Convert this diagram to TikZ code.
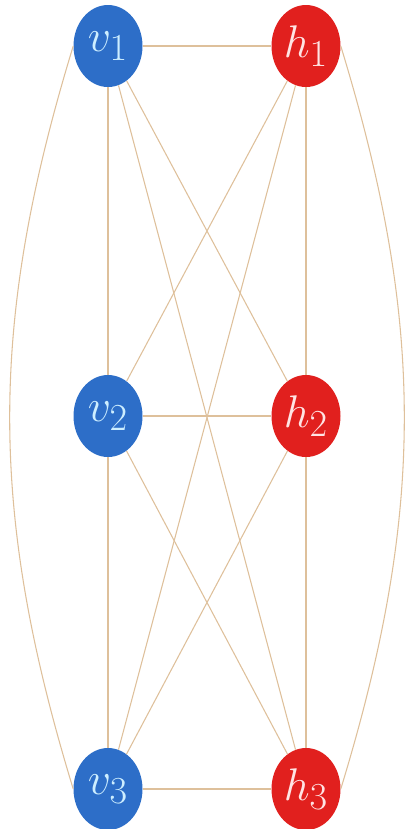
\documentclass[tikz,border=0pt]{standalone}
\usepackage{graphicx}
\usepackage{tikz}
\usetikzlibrary{shapes.geometric}
\definecolor{vblue}{RGB}{45,110,200}
\definecolor{hred}{RGB}{225,32,30}
\definecolor{vtext}{RGB}{205,238,255}
\definecolor{htext}{RGB}{255,228,228}
\definecolor{edgetan}{RGB}{222,192,155}
\newcommand{\unitlabel}[2]{\scalebox{1.38}{$#1_#2$}}
\begin{document}
\begin{tikzpicture}[x=0.75pt,y=-0.75pt,
  unit/.style={ellipse, minimum width=51.75pt, minimum height=61.5pt, inner sep=0pt,
    font=\Huge},
  visible/.style={unit, fill=vblue, text=vtext},
  hidden/.style={unit, fill=hred, text=htext},
  link/.style={draw=edgetan, line width=0.8pt}]
\useasboundingbox (0,0) rectangle (405,829);

\node[visible] (v1) at (108,46) {\unitlabel{v}{1}};
\node[visible] (v2) at (108,416) {\unitlabel{v}{2}};
\node[visible] (v3) at (108,789) {\unitlabel{v}{3}};
\node[hidden] (h1) at (306,46) {\unitlabel{h}{1}};
\node[hidden] (h2) at (306,416) {\unitlabel{h}{2}};
\node[hidden] (h3) at (306,789) {\unitlabel{h}{3}};

\draw[link] (v1) -- (h1);
\draw[link] (v2) -- (h2);
\draw[link] (v3) -- (h3);
\draw[link] (v1) -- (v2);
\draw[link] (v2) -- (v3);
\draw[link] (h1) -- (h2);
\draw[link] (h2) -- (h3);
\draw[link] (v1) -- (h2);
\draw[link] (v1) -- (h3);
\draw[link] (v2) -- (h1);
\draw[link] (v2) -- (h3);
\draw[link] (v3) -- (h1);
\draw[link] (v3) -- (h2);
% outer arcs
\draw[link] (v1.west) to[out=253,in=107] (v3.west);
\draw[link] (h1.east) to[out=-73,in=73] (h3.east);
\end{tikzpicture}
\end{document}
